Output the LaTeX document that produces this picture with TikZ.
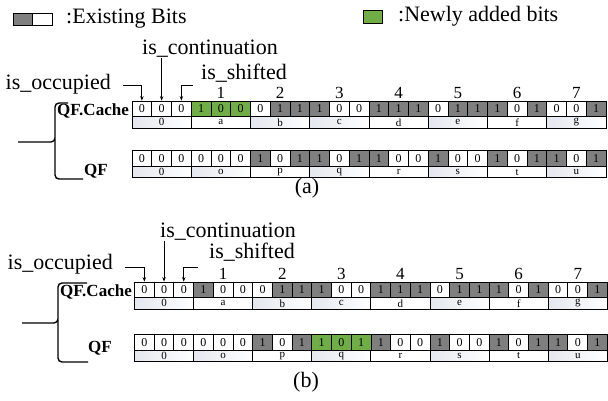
\documentclass[tikz,border=0pt]{standalone}
\usepackage{fontspec}
\setmainfont{Liberation Serif}
\usetikzlibrary{arrows.meta}
\definecolor{bitgray}{HTML}{7F7F7F}
\definecolor{newgreen}{HTML}{70AD47}
\definecolor{slotshade}{HTML}{E4E7EE}
\tikzset{
  bit/.style={draw, line width=0.8pt, minimum width=19.75pt, minimum height=15.5pt,
    inner sep=0pt, font=\fontsize{12}{12}\selectfont},
  bit0/.style={bit, fill=white},
  bit1/.style={bit, fill=bitgray},
  bitnew/.style={bit, fill=newgreen},
  slot/.style={draw, line width=0.8pt, minimum width=59.25pt, minimum height=11.5pt,
    inner sep=0pt, font=\fontsize{11}{11}\selectfont},
  slot0/.style={slot, fill=white},
  slot1/.style={slot, left color=slotshade, right color=white},
  lbl/.style={font=\fontsize{22}{22}\selectfont, inner sep=0pt},
  num/.style={font=\fontsize{17}{17}\selectfont, inner sep=0pt, anchor=south},
  rowname/.style={font=\fontsize{17}{17}\selectfont\bfseries, inner sep=0pt},
  lead/.style={line width=0.8pt, -{Stealth[length=4.5pt,width=3.5pt]}},
  brace/.style={line width=1.4pt, rounded corners=4pt}
}
\begin{document}
\begin{tikzpicture}[x=1pt, y=-1pt]
\useasboundingbox (0,0) rectangle (608,400);

% legend
\draw[line width=0.8pt, fill=bitgray] (13,13) rectangle (32,25);
\draw[line width=0.8pt, fill=white] (32,13) rectangle (52,25);
\node[lbl, anchor=west] (exist) at (66,19) {:Existing Bits};
\draw[line width=0.8pt, fill=newgreen] (363,10) rectangle (382,23);
\node[lbl, anchor=west] (newly) at (398,16) {:Newly added bits};

%%%%% (a)
% QF.Cache
\foreach \b [count=\i from 0] in {0,0,0,1,0,0,0,1,1,1,0,0,1,1,1,0,1,1,1,0,1,0,0,1}
  \node[bit\b] (ac\i) at ({132+19.75*(\i+0.5)},108.75) {\b};
\foreach \i/\b in {3/1,4/0,5/0}
  \node[bitnew] (acg\i) at (ac\i) {\b};
\foreach \l/\s [count=\j from 0] in {0/1,a/0,b/1,c/1,d/0,e/1,f/0,g/1}
  \node[slot\s] (acl\j) at ({132+59.25*(\j+0.5)},122.25) {\l};
\foreach \j in {1,...,7}{
  \pgfmathtruncatemacro{\k}{3*\j+1}
  \node[num] (an\j) at ([yshift=1.5pt]ac\k.north) {\j};
}
% QF
\foreach \b [count=\i from 0] in {0,0,0,0,0,0,1,0,1,1,0,1,1,0,0,1,0,0,1,0,1,1,0,1}
  \node[bit\b] (aq\i) at ({132+19.75*(\i+0.5)},158.5) {\b};
\foreach \l/\s [count=\j from 0] in {0/1,o/1,p/0,q/1,r/0,s/1,t/0,u/1}
  \node[slot\s] (aql\j) at ({132+59.25*(\j+0.5)},172) {\l};

\node[lbl, anchor=east] (aocc) at (111,84) {is\_occupied};
\node[lbl] (acont) at (210,49) {is\_continuation};
\node[lbl] (ashift) at (244,73) {is\_shifted};
\coordinate (aoccend) at (123,85);
\coordinate (ashend) at (193,85);
\draw[lead] (aoccend) -| (ac0.north);
\draw[lead] (acont.south -| ac1.north) -- (ac1.north);
\draw[lead] (ashend) -| (ac2.north);

\node[rowname, anchor=east] (acache) at (129,111) {QF.Cache};
\node[rowname] (aqf) at (96,171) {QF};
\draw[brace] (68,103) -- (55,103) -- (55,142) -- (18,142);
\draw[brace] (55,139) -- (55,179) -- (83,179);
\node[lbl] (acap) at (307,188) {(a)};

%%%%% (b)
% QF.Cache
\foreach \b [count=\i from 0] in {0,0,0,1,0,0,0,1,1,1,0,0,1,1,1,0,1,1,1,0,1,0,0,1}
  \node[bit\b] (bc\i) at ({134.5+19.7*(\i+0.5)},289.75) {\b};
\foreach \l/\s [count=\j from 0] in {0/1,a/0,b/1,c/1,d/0,e/1,f/0,g/1}
  \node[slot\s] (bcl\j) at ({134.5+59.1*(\j+0.5)},303.25) {\l};
\foreach \j in {1,...,7}{
  \pgfmathtruncatemacro{\k}{3*\j+1}
  \node[num] (bn\j) at ([yshift=1.5pt]bc\k.north) {\j};
}
% QF
\foreach \b [count=\i from 0] in {0,0,0,0,0,0,1,0,1,1,0,1,1,0,0,1,0,0,1,0,1,1,0,1}
  \node[bit\b] (bq\i) at ({134.5+19.7*(\i+0.5)},342.25) {\b};
\foreach \i/\b in {9/1,10/0,11/1}
  \node[bitnew] (bqg\i) at (bq\i) {\b};
\foreach \l/\s [count=\j from 0] in {0/1,o/1,p/0,q/1,r/0,s/1,t/0,u/1}
  \node[slot\s] (bql\j) at ({134.5+59.1*(\j+0.5)},355.75) {\l};

\node[lbl, anchor=east] (bocc) at (113,264) {is\_occupied};
\node[lbl] (bcont) at (228,232) {is\_continuation};
\node[lbl] (bshift) at (252,252) {is\_shifted};
\coordinate (boccend) at (125,267);
\coordinate (bshend) at (198,267);
\draw[lead] (boccend) -| (bc0.north);
\draw[lead] (bcont.south -| bc1.north) -- (bc1.north);
\draw[lead] (bshend) -| (bc2.north);

\node[rowname, anchor=east] (bcache) at (132,292) {QF.Cache};
\node[rowname] (bqf) at (100,348) {QF};
\draw[brace] (87,283) -- (58,283) -- (58,323) -- (22,323);
\draw[brace] (58,320) -- (58,362) -- (88,362);
\node[lbl] (bcap) at (306,382) {(b)};
\end{tikzpicture}
\end{document}
